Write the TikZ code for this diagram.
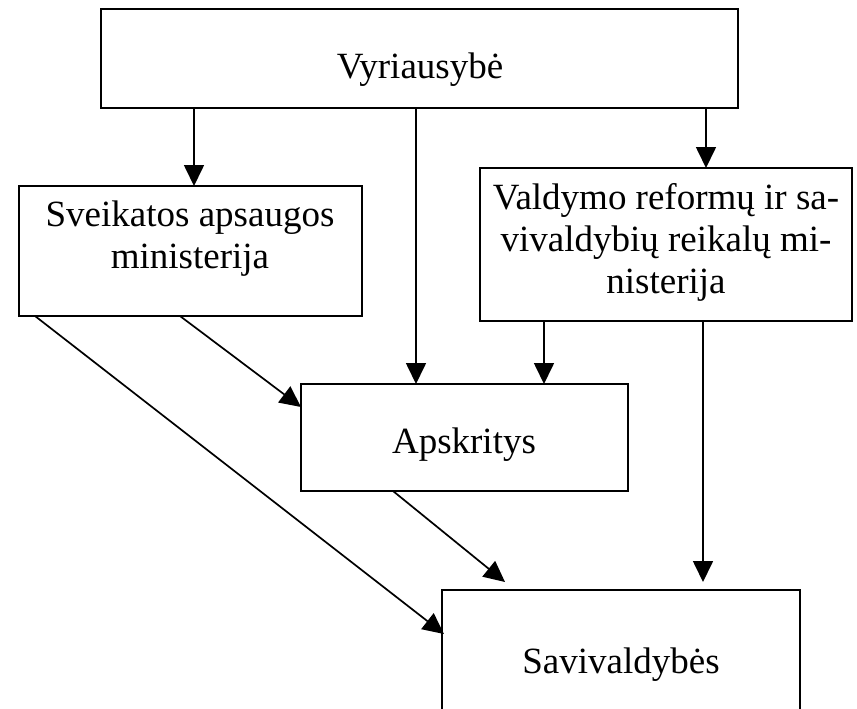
\documentclass[tikz,border=0pt]{standalone}
\usepackage{fontspec}
\setmainfont{Liberation Serif}
\usetikzlibrary{arrows.meta}
\begin{document}
\begin{tikzpicture}[x=1pt,y=-1pt,
  box/.style={draw, line width=2pt, rectangle, inner sep=0pt, outer sep=0pt, anchor=north west},
  lbl/.style={font=\fontsize{37}{42}\selectfont, anchor=base, inner sep=0pt},
  conn/.style={line width=1.7pt, -{Triangle[length=21pt,width=20pt]}},
  plain/.style={line width=1.7pt}]
\useasboundingbox[fill=white] (0,0) rectangle (857,709);
% boxes
\node[box, minimum width=637pt, minimum height=99pt] (gov) at (101,9) {};
\node[box, minimum width=343pt, minimum height=130pt] (health) at (19,186) {};
\node[box, minimum width=372pt, minimum height=153pt] (reform) at (480,168) {};
\node[box, minimum width=327pt, minimum height=107pt] (county) at (301,384) {};
\node[box, minimum width=358pt, minimum height=150pt] (muni) at (442,590) {};
% texts
\node[lbl] (tgov) at (420,78) {Vyriausybė};
\node[lbl] (th1) at (190,226) {Sveikatos apsaugos};
\node[lbl] (th2) at (190,268) {ministerija};
\node[lbl] (tr1) at (666,209) {Valdymo reformų ir sa-};
\node[lbl] (tr2) at (666,251) {vivaldybių reikalų mi-};
\node[lbl] (tr3) at (666,293) {nisterija};
\node[lbl] (tcounty) at (464,453) {Apskritys};
\node[lbl] (tmuni) at (621,673) {Savivaldybės};
% helper columns
\coordinate (xh) at (194,0);
\coordinate (xm) at (416,0);
\coordinate (xr) at (706,0);
\coordinate (xc) at (544,0);
\coordinate (xs) at (703,0);
\coordinate (rm) at (703,582);
% diagonal end points
\coordinate (h1) at (180,316);
\coordinate (c1) at (301,407);
\coordinate (h2) at (35,316);
\coordinate (m1) at (444,634);
\coordinate (c2) at (393,491);
\coordinate (m2) at (505,582);
% connectors
\draw[conn] (gov.south -| xh) -- (health.north -| xh);
\draw[conn] (gov.south -| xm) -- (county.north -| xm);
\draw[conn] (gov.south -| xr) -- (reform.north -| xr);
\draw[conn] (reform.south -| xc) -- (county.north -| xc);
\draw[conn] (reform.south -| xs) -- (rm);
\draw[conn] (h1) -- (c1);
\draw[conn] (h2) -- (m1);
\draw[conn] (c2) -- (m2);
\end{tikzpicture}
\end{document}
